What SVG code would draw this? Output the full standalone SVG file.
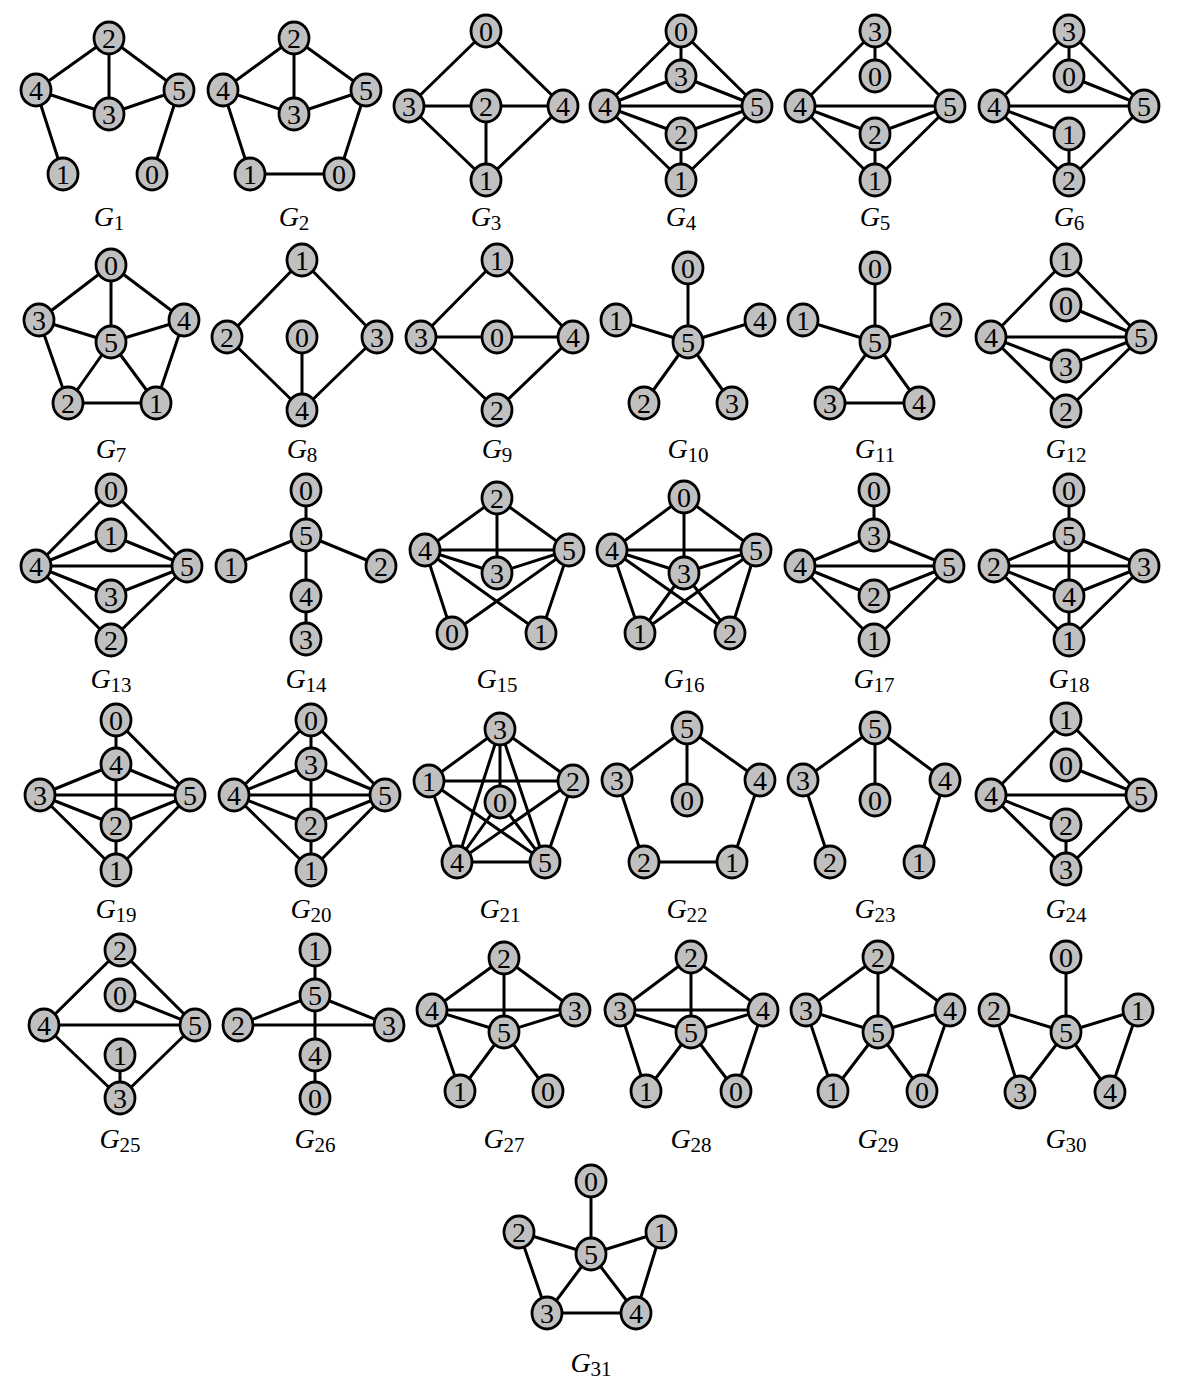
<svg xmlns="http://www.w3.org/2000/svg" width="1190" height="1388" viewBox="0 0 1190 1388">
<style>
.e{stroke:#000;stroke-width:3;stroke-linecap:round}
.n ellipse{fill:#c0c0c0;stroke:#000;stroke-width:2.8}
.n text{font-family:"Liberation Serif",serif;font-size:28px;text-anchor:middle;fill:#000}
.lbl{font-family:"Liberation Serif",serif;font-size:28px;text-anchor:middle;fill:#000}
.lbl .g{font-style:italic}
.lbl .s{font-size:21px}
</style>
<rect width="1190" height="1388" fill="#fff"/>
<g id="connectors">
<!-- G1 -->
<line class="e" x1="109" y1="38" x2="36" y2="90"/><line class="e" x1="109" y1="38" x2="109" y2="114"/><line class="e" x1="109" y1="38" x2="179" y2="90"/><line class="e" x1="36" y1="90" x2="109" y2="114"/><line class="e" x1="109" y1="114" x2="179" y2="90"/><line class="e" x1="36" y1="90" x2="63" y2="174"/><line class="e" x1="179" y1="90" x2="152" y2="174"/>
<!-- G2 -->
<line class="e" x1="294" y1="38" x2="223" y2="90"/><line class="e" x1="294" y1="38" x2="294" y2="114"/><line class="e" x1="294" y1="38" x2="366" y2="90"/><line class="e" x1="223" y1="90" x2="294" y2="114"/><line class="e" x1="294" y1="114" x2="366" y2="90"/><line class="e" x1="223" y1="90" x2="250" y2="174"/><line class="e" x1="366" y1="90" x2="339" y2="174"/><line class="e" x1="250" y1="174" x2="339" y2="174"/>
<!-- G3 -->
<line class="e" x1="486" y1="31" x2="409" y2="106"/><line class="e" x1="486" y1="31" x2="563" y2="106"/><line class="e" x1="409" y1="106" x2="563" y2="106"/><line class="e" x1="409" y1="106" x2="486" y2="180"/><line class="e" x1="563" y1="106" x2="486" y2="180"/><line class="e" x1="486" y1="106" x2="486" y2="180"/>
<!-- G4 -->
<line class="e" x1="681" y1="31" x2="605" y2="106"/><line class="e" x1="681" y1="31" x2="757" y2="106"/><line class="e" x1="681" y1="31" x2="681" y2="76"/><line class="e" x1="681" y1="76" x2="605" y2="106"/><line class="e" x1="681" y1="76" x2="757" y2="106"/><line class="e" x1="605" y1="106" x2="757" y2="106"/><line class="e" x1="605" y1="106" x2="681" y2="134"/><line class="e" x1="681" y1="134" x2="757" y2="106"/><line class="e" x1="605" y1="106" x2="681" y2="180"/><line class="e" x1="757" y1="106" x2="681" y2="180"/><line class="e" x1="681" y1="134" x2="681" y2="180"/>
<!-- G5 -->
<line class="e" x1="875" y1="31" x2="800" y2="106"/><line class="e" x1="875" y1="31" x2="950" y2="106"/><line class="e" x1="875" y1="31" x2="875" y2="76"/><line class="e" x1="800" y1="106" x2="950" y2="106"/><line class="e" x1="800" y1="106" x2="875" y2="134"/><line class="e" x1="875" y1="134" x2="950" y2="106"/><line class="e" x1="800" y1="106" x2="875" y2="180"/><line class="e" x1="950" y1="106" x2="875" y2="180"/><line class="e" x1="875" y1="134" x2="875" y2="180"/>
<!-- G6 -->
<line class="e" x1="1069" y1="31" x2="994" y2="106"/><line class="e" x1="1069" y1="31" x2="1144" y2="106"/><line class="e" x1="1069" y1="31" x2="1069" y2="76"/><line class="e" x1="1069" y1="76" x2="1144" y2="106"/><line class="e" x1="994" y1="106" x2="1144" y2="106"/><line class="e" x1="994" y1="106" x2="1069" y2="134"/><line class="e" x1="994" y1="106" x2="1069" y2="180"/><line class="e" x1="1144" y1="106" x2="1069" y2="180"/><line class="e" x1="1069" y1="134" x2="1069" y2="180"/>
<!-- G7 -->
<line class="e" x1="111" y1="265" x2="39" y2="320"/><line class="e" x1="111" y1="265" x2="184" y2="320"/><line class="e" x1="111" y1="265" x2="111" y2="342"/><line class="e" x1="39" y1="320" x2="111" y2="342"/><line class="e" x1="184" y1="320" x2="111" y2="342"/><line class="e" x1="39" y1="320" x2="68" y2="403"/><line class="e" x1="184" y1="320" x2="156" y2="403"/><line class="e" x1="111" y1="342" x2="68" y2="403"/><line class="e" x1="111" y1="342" x2="156" y2="403"/><line class="e" x1="68" y1="403" x2="156" y2="403"/>
<!-- G8 -->
<line class="e" x1="302" y1="260" x2="227" y2="337"/><line class="e" x1="302" y1="260" x2="377" y2="337"/><line class="e" x1="227" y1="337" x2="302" y2="410"/><line class="e" x1="377" y1="337" x2="302" y2="410"/><line class="e" x1="302" y1="337" x2="302" y2="410"/>
<!-- G9 -->
<line class="e" x1="497" y1="260" x2="421" y2="337"/><line class="e" x1="497" y1="260" x2="573" y2="337"/><line class="e" x1="421" y1="337" x2="573" y2="337"/><line class="e" x1="421" y1="337" x2="497" y2="410"/><line class="e" x1="573" y1="337" x2="497" y2="410"/>
<!-- G10 -->
<line class="e" x1="688" y1="342" x2="688" y2="268"/><line class="e" x1="688" y1="342" x2="616" y2="320"/><line class="e" x1="688" y1="342" x2="760" y2="320"/><line class="e" x1="688" y1="342" x2="644" y2="403"/><line class="e" x1="688" y1="342" x2="732" y2="403"/>
<!-- G11 -->
<line class="e" x1="875" y1="342" x2="875" y2="268"/><line class="e" x1="875" y1="342" x2="803" y2="320"/><line class="e" x1="875" y1="342" x2="946" y2="320"/><line class="e" x1="875" y1="342" x2="830" y2="403"/><line class="e" x1="875" y1="342" x2="919" y2="403"/><line class="e" x1="830" y1="403" x2="919" y2="403"/>
<!-- G12 -->
<line class="e" x1="1066" y1="260" x2="991" y2="337"/><line class="e" x1="1066" y1="260" x2="1141" y2="337"/><line class="e" x1="1066" y1="305" x2="1141" y2="337"/><line class="e" x1="991" y1="337" x2="1141" y2="337"/><line class="e" x1="991" y1="337" x2="1066" y2="366"/><line class="e" x1="1066" y1="366" x2="1141" y2="337"/><line class="e" x1="991" y1="337" x2="1066" y2="411"/><line class="e" x1="1066" y1="411" x2="1141" y2="337"/>
<!-- G13 -->
<line class="e" x1="111" y1="490" x2="36" y2="566"/><line class="e" x1="111" y1="490" x2="187" y2="566"/><line class="e" x1="111" y1="535" x2="36" y2="566"/><line class="e" x1="111" y1="535" x2="187" y2="566"/><line class="e" x1="36" y1="566" x2="187" y2="566"/><line class="e" x1="36" y1="566" x2="111" y2="596"/><line class="e" x1="111" y1="596" x2="187" y2="566"/><line class="e" x1="36" y1="566" x2="111" y2="640"/><line class="e" x1="111" y1="640" x2="187" y2="566"/>
<!-- G14 -->
<line class="e" x1="306" y1="490" x2="306" y2="535"/><line class="e" x1="306" y1="535" x2="231" y2="566"/><line class="e" x1="306" y1="535" x2="381" y2="566"/><line class="e" x1="306" y1="535" x2="306" y2="596"/><line class="e" x1="306" y1="596" x2="306" y2="639"/>
<!-- G15 -->
<line class="e" x1="497" y1="498" x2="425" y2="550"/><line class="e" x1="497" y1="498" x2="569" y2="550"/><line class="e" x1="497" y1="498" x2="497" y2="573"/><line class="e" x1="425" y1="550" x2="569" y2="550"/><line class="e" x1="425" y1="550" x2="497" y2="573"/><line class="e" x1="497" y1="573" x2="569" y2="550"/><line class="e" x1="425" y1="550" x2="452" y2="633"/><line class="e" x1="425" y1="550" x2="541" y2="633"/><line class="e" x1="569" y1="550" x2="452" y2="633"/><line class="e" x1="569" y1="550" x2="541" y2="633"/>
<!-- G16 -->
<line class="e" x1="684" y1="497" x2="612" y2="550"/><line class="e" x1="684" y1="497" x2="756" y2="550"/><line class="e" x1="684" y1="497" x2="684" y2="573"/><line class="e" x1="612" y1="550" x2="756" y2="550"/><line class="e" x1="612" y1="550" x2="684" y2="573"/><line class="e" x1="756" y1="550" x2="684" y2="573"/><line class="e" x1="612" y1="550" x2="640" y2="633"/><line class="e" x1="612" y1="550" x2="730" y2="633"/><line class="e" x1="756" y1="550" x2="640" y2="633"/><line class="e" x1="756" y1="550" x2="730" y2="633"/><line class="e" x1="684" y1="573" x2="640" y2="633"/><line class="e" x1="684" y1="573" x2="730" y2="633"/>
<!-- G17 -->
<line class="e" x1="874" y1="490" x2="874" y2="535"/><line class="e" x1="874" y1="535" x2="800" y2="566"/><line class="e" x1="874" y1="535" x2="949" y2="566"/><line class="e" x1="800" y1="566" x2="949" y2="566"/><line class="e" x1="800" y1="566" x2="874" y2="596"/><line class="e" x1="874" y1="596" x2="949" y2="566"/><line class="e" x1="800" y1="566" x2="874" y2="640"/><line class="e" x1="949" y1="566" x2="874" y2="640"/>
<!-- G18 -->
<line class="e" x1="1069" y1="490" x2="1069" y2="535"/><line class="e" x1="1069" y1="535" x2="994" y2="566"/><line class="e" x1="1069" y1="535" x2="1144" y2="566"/><line class="e" x1="1069" y1="535" x2="1069" y2="596"/><line class="e" x1="994" y1="566" x2="1144" y2="566"/><line class="e" x1="994" y1="566" x2="1069" y2="596"/><line class="e" x1="1069" y1="596" x2="1144" y2="566"/><line class="e" x1="1069" y1="596" x2="1069" y2="640"/><line class="e" x1="994" y1="566" x2="1069" y2="640"/><line class="e" x1="1144" y1="566" x2="1069" y2="640"/>
<!-- G19 -->
<line class="e" x1="116" y1="720" x2="116" y2="764"/><line class="e" x1="116" y1="720" x2="190" y2="795"/><line class="e" x1="116" y1="764" x2="40" y2="795"/><line class="e" x1="116" y1="764" x2="190" y2="795"/><line class="e" x1="116" y1="764" x2="116" y2="825"/><line class="e" x1="40" y1="795" x2="190" y2="795"/><line class="e" x1="40" y1="795" x2="116" y2="825"/><line class="e" x1="116" y1="825" x2="190" y2="795"/><line class="e" x1="40" y1="795" x2="116" y2="870"/><line class="e" x1="190" y1="795" x2="116" y2="870"/><line class="e" x1="116" y1="825" x2="116" y2="870"/>
<!-- G20 -->
<line class="e" x1="311" y1="720" x2="234" y2="795"/><line class="e" x1="311" y1="720" x2="385" y2="795"/><line class="e" x1="311" y1="720" x2="311" y2="764"/><line class="e" x1="311" y1="764" x2="234" y2="795"/><line class="e" x1="311" y1="764" x2="385" y2="795"/><line class="e" x1="311" y1="764" x2="311" y2="825"/><line class="e" x1="234" y1="795" x2="385" y2="795"/><line class="e" x1="234" y1="795" x2="311" y2="825"/><line class="e" x1="311" y1="825" x2="385" y2="795"/><line class="e" x1="234" y1="795" x2="311" y2="870"/><line class="e" x1="385" y1="795" x2="311" y2="870"/><line class="e" x1="311" y1="825" x2="311" y2="870"/>
<!-- G21 -->
<line class="e" x1="500" y1="729" x2="429" y2="781"/><line class="e" x1="500" y1="729" x2="573" y2="781"/><line class="e" x1="500" y1="729" x2="500" y2="802"/><line class="e" x1="500" y1="729" x2="457" y2="862"/><line class="e" x1="500" y1="729" x2="545" y2="862"/><line class="e" x1="429" y1="781" x2="573" y2="781"/><line class="e" x1="429" y1="781" x2="457" y2="862"/><line class="e" x1="429" y1="781" x2="545" y2="862"/><line class="e" x1="573" y1="781" x2="457" y2="862"/><line class="e" x1="573" y1="781" x2="545" y2="862"/><line class="e" x1="500" y1="802" x2="457" y2="862"/><line class="e" x1="500" y1="802" x2="545" y2="862"/><line class="e" x1="457" y1="862" x2="545" y2="862"/>
<!-- G22 -->
<line class="e" x1="687" y1="728" x2="617" y2="780"/><line class="e" x1="687" y1="728" x2="760" y2="780"/><line class="e" x1="687" y1="728" x2="687" y2="800"/><line class="e" x1="617" y1="780" x2="644" y2="862"/><line class="e" x1="760" y1="780" x2="732" y2="862"/><line class="e" x1="644" y1="862" x2="732" y2="862"/>
<!-- G23 -->
<line class="e" x1="875" y1="728" x2="803" y2="780"/><line class="e" x1="875" y1="728" x2="945" y2="780"/><line class="e" x1="875" y1="728" x2="875" y2="800"/><line class="e" x1="803" y1="780" x2="830" y2="862"/><line class="e" x1="945" y1="780" x2="919" y2="862"/>
<!-- G24 -->
<line class="e" x1="1066" y1="719" x2="991" y2="795"/><line class="e" x1="1066" y1="719" x2="1141" y2="795"/><line class="e" x1="1066" y1="765" x2="1141" y2="795"/><line class="e" x1="991" y1="795" x2="1141" y2="795"/><line class="e" x1="991" y1="795" x2="1066" y2="825"/><line class="e" x1="991" y1="795" x2="1066" y2="869"/><line class="e" x1="1066" y1="825" x2="1066" y2="869"/><line class="e" x1="1066" y1="869" x2="1141" y2="795"/>
<!-- G25 -->
<line class="e" x1="120" y1="950" x2="44" y2="1025"/><line class="e" x1="120" y1="950" x2="195" y2="1025"/><line class="e" x1="120" y1="995" x2="195" y2="1025"/><line class="e" x1="44" y1="1025" x2="195" y2="1025"/><line class="e" x1="44" y1="1025" x2="120" y2="1098"/><line class="e" x1="120" y1="1055" x2="120" y2="1098"/><line class="e" x1="120" y1="1098" x2="195" y2="1025"/>
<!-- G26 -->
<line class="e" x1="315" y1="950" x2="315" y2="995"/><line class="e" x1="315" y1="995" x2="238" y2="1025"/><line class="e" x1="315" y1="995" x2="389" y2="1025"/><line class="e" x1="315" y1="995" x2="315" y2="1055"/><line class="e" x1="238" y1="1025" x2="389" y2="1025"/><line class="e" x1="315" y1="1055" x2="315" y2="1098"/>
<!-- G27 -->
<line class="e" x1="504" y1="958" x2="432" y2="1010"/><line class="e" x1="504" y1="958" x2="575" y2="1010"/><line class="e" x1="504" y1="958" x2="504" y2="1032"/><line class="e" x1="432" y1="1010" x2="575" y2="1010"/><line class="e" x1="432" y1="1010" x2="504" y2="1032"/><line class="e" x1="504" y1="1032" x2="575" y2="1010"/><line class="e" x1="432" y1="1010" x2="460" y2="1091"/><line class="e" x1="504" y1="1032" x2="460" y2="1091"/><line class="e" x1="504" y1="1032" x2="548" y2="1091"/>
<!-- G28 -->
<line class="e" x1="691" y1="957" x2="620" y2="1010"/><line class="e" x1="691" y1="957" x2="763" y2="1010"/><line class="e" x1="691" y1="957" x2="691" y2="1032"/><line class="e" x1="620" y1="1010" x2="763" y2="1010"/><line class="e" x1="620" y1="1010" x2="691" y2="1032"/><line class="e" x1="691" y1="1032" x2="763" y2="1010"/><line class="e" x1="620" y1="1010" x2="646" y2="1091"/><line class="e" x1="691" y1="1032" x2="646" y2="1091"/><line class="e" x1="691" y1="1032" x2="736" y2="1091"/><line class="e" x1="763" y1="1010" x2="736" y2="1091"/>
<!-- G29 -->
<line class="e" x1="878" y1="957" x2="806" y2="1010"/><line class="e" x1="878" y1="957" x2="950" y2="1010"/><line class="e" x1="878" y1="957" x2="878" y2="1032"/><line class="e" x1="806" y1="1010" x2="878" y2="1032"/><line class="e" x1="878" y1="1032" x2="950" y2="1010"/><line class="e" x1="806" y1="1010" x2="833" y2="1091"/><line class="e" x1="878" y1="1032" x2="833" y2="1091"/><line class="e" x1="878" y1="1032" x2="922" y2="1091"/><line class="e" x1="950" y1="1010" x2="922" y2="1091"/>
<!-- G30 -->
<line class="e" x1="1066" y1="957" x2="1066" y2="1032"/><line class="e" x1="994" y1="1010" x2="1066" y2="1032"/><line class="e" x1="1066" y1="1032" x2="1138" y2="1010"/><line class="e" x1="994" y1="1010" x2="1020" y2="1092"/><line class="e" x1="1066" y1="1032" x2="1020" y2="1092"/><line class="e" x1="1066" y1="1032" x2="1110" y2="1092"/><line class="e" x1="1138" y1="1010" x2="1110" y2="1092"/>
<!-- G31 -->
<line class="e" x1="591" y1="1181" x2="591" y2="1254"/><line class="e" x1="519" y1="1232" x2="591" y2="1254"/><line class="e" x1="591" y1="1254" x2="661" y2="1232"/><line class="e" x1="519" y1="1232" x2="547" y2="1313"/><line class="e" x1="591" y1="1254" x2="547" y2="1313"/><line class="e" x1="591" y1="1254" x2="636" y2="1313"/><line class="e" x1="547" y1="1313" x2="636" y2="1313"/><line class="e" x1="661" y1="1232" x2="636" y2="1313"/>
</g>
<g id="nodes">
<!-- G1 -->
<g id="g1-n2" class="n"><ellipse cx="109" cy="38" rx="15" ry="16"/><text x="109" y="48">2</text></g>
<g id="g1-n4" class="n"><ellipse cx="36" cy="90" rx="15" ry="16"/><text x="36" y="100">4</text></g>
<g id="g1-n3" class="n"><ellipse cx="109" cy="114" rx="15" ry="16"/><text x="109" y="124">3</text></g>
<g id="g1-n5" class="n"><ellipse cx="179" cy="90" rx="15" ry="16"/><text x="179" y="100">5</text></g>
<g id="g1-n1" class="n"><ellipse cx="63" cy="174" rx="15" ry="16"/><text x="63" y="184">1</text></g>
<g id="g1-n0" class="n"><ellipse cx="152" cy="174" rx="15" ry="16"/><text x="152" y="184">0</text></g>
<!-- G2 -->
<g id="g2-n2" class="n"><ellipse cx="294" cy="38" rx="15" ry="16"/><text x="294" y="48">2</text></g>
<g id="g2-n4" class="n"><ellipse cx="223" cy="90" rx="15" ry="16"/><text x="223" y="100">4</text></g>
<g id="g2-n3" class="n"><ellipse cx="294" cy="114" rx="15" ry="16"/><text x="294" y="124">3</text></g>
<g id="g2-n5" class="n"><ellipse cx="366" cy="90" rx="15" ry="16"/><text x="366" y="100">5</text></g>
<g id="g2-n1" class="n"><ellipse cx="250" cy="174" rx="15" ry="16"/><text x="250" y="184">1</text></g>
<g id="g2-n0" class="n"><ellipse cx="339" cy="174" rx="15" ry="16"/><text x="339" y="184">0</text></g>
<!-- G3 -->
<g id="g3-n0" class="n"><ellipse cx="486" cy="31" rx="15" ry="16"/><text x="486" y="41">0</text></g>
<g id="g3-n3" class="n"><ellipse cx="409" cy="106" rx="15" ry="16"/><text x="409" y="116">3</text></g>
<g id="g3-n2" class="n"><ellipse cx="486" cy="106" rx="15" ry="16"/><text x="486" y="116">2</text></g>
<g id="g3-n4" class="n"><ellipse cx="563" cy="106" rx="15" ry="16"/><text x="563" y="116">4</text></g>
<g id="g3-n1" class="n"><ellipse cx="486" cy="180" rx="15" ry="16"/><text x="486" y="190">1</text></g>
<!-- G4 -->
<g id="g4-n0" class="n"><ellipse cx="681" cy="31" rx="15" ry="16"/><text x="681" y="41">0</text></g>
<g id="g4-n3" class="n"><ellipse cx="681" cy="76" rx="15" ry="16"/><text x="681" y="86">3</text></g>
<g id="g4-n4" class="n"><ellipse cx="605" cy="106" rx="15" ry="16"/><text x="605" y="116">4</text></g>
<g id="g4-n5" class="n"><ellipse cx="757" cy="106" rx="15" ry="16"/><text x="757" y="116">5</text></g>
<g id="g4-n2" class="n"><ellipse cx="681" cy="134" rx="15" ry="16"/><text x="681" y="144">2</text></g>
<g id="g4-n1" class="n"><ellipse cx="681" cy="180" rx="15" ry="16"/><text x="681" y="190">1</text></g>
<!-- G5 -->
<g id="g5-n3" class="n"><ellipse cx="875" cy="31" rx="15" ry="16"/><text x="875" y="41">3</text></g>
<g id="g5-n0" class="n"><ellipse cx="875" cy="76" rx="15" ry="16"/><text x="875" y="86">0</text></g>
<g id="g5-n4" class="n"><ellipse cx="800" cy="106" rx="15" ry="16"/><text x="800" y="116">4</text></g>
<g id="g5-n5" class="n"><ellipse cx="950" cy="106" rx="15" ry="16"/><text x="950" y="116">5</text></g>
<g id="g5-n2" class="n"><ellipse cx="875" cy="134" rx="15" ry="16"/><text x="875" y="144">2</text></g>
<g id="g5-n1" class="n"><ellipse cx="875" cy="180" rx="15" ry="16"/><text x="875" y="190">1</text></g>
<!-- G6 -->
<g id="g6-n3" class="n"><ellipse cx="1069" cy="31" rx="15" ry="16"/><text x="1069" y="41">3</text></g>
<g id="g6-n0" class="n"><ellipse cx="1069" cy="76" rx="15" ry="16"/><text x="1069" y="86">0</text></g>
<g id="g6-n4" class="n"><ellipse cx="994" cy="106" rx="15" ry="16"/><text x="994" y="116">4</text></g>
<g id="g6-n5" class="n"><ellipse cx="1144" cy="106" rx="15" ry="16"/><text x="1144" y="116">5</text></g>
<g id="g6-n1" class="n"><ellipse cx="1069" cy="134" rx="15" ry="16"/><text x="1069" y="144">1</text></g>
<g id="g6-n2" class="n"><ellipse cx="1069" cy="180" rx="15" ry="16"/><text x="1069" y="190">2</text></g>
<!-- G7 -->
<g id="g7-n0" class="n"><ellipse cx="111" cy="265" rx="15" ry="16"/><text x="111" y="275">0</text></g>
<g id="g7-n3" class="n"><ellipse cx="39" cy="320" rx="15" ry="16"/><text x="39" y="330">3</text></g>
<g id="g7-n4" class="n"><ellipse cx="184" cy="320" rx="15" ry="16"/><text x="184" y="330">4</text></g>
<g id="g7-n5" class="n"><ellipse cx="111" cy="342" rx="15" ry="16"/><text x="111" y="352">5</text></g>
<g id="g7-n2" class="n"><ellipse cx="68" cy="403" rx="15" ry="16"/><text x="68" y="413">2</text></g>
<g id="g7-n1" class="n"><ellipse cx="156" cy="403" rx="15" ry="16"/><text x="156" y="413">1</text></g>
<!-- G8 -->
<g id="g8-n1" class="n"><ellipse cx="302" cy="260" rx="15" ry="16"/><text x="302" y="270">1</text></g>
<g id="g8-n2" class="n"><ellipse cx="227" cy="337" rx="15" ry="16"/><text x="227" y="347">2</text></g>
<g id="g8-n0" class="n"><ellipse cx="302" cy="337" rx="15" ry="16"/><text x="302" y="347">0</text></g>
<g id="g8-n3" class="n"><ellipse cx="377" cy="337" rx="15" ry="16"/><text x="377" y="347">3</text></g>
<g id="g8-n4" class="n"><ellipse cx="302" cy="410" rx="15" ry="16"/><text x="302" y="420">4</text></g>
<!-- G9 -->
<g id="g9-n1" class="n"><ellipse cx="497" cy="260" rx="15" ry="16"/><text x="497" y="270">1</text></g>
<g id="g9-n3" class="n"><ellipse cx="421" cy="337" rx="15" ry="16"/><text x="421" y="347">3</text></g>
<g id="g9-n0" class="n"><ellipse cx="497" cy="337" rx="15" ry="16"/><text x="497" y="347">0</text></g>
<g id="g9-n4" class="n"><ellipse cx="573" cy="337" rx="15" ry="16"/><text x="573" y="347">4</text></g>
<g id="g9-n2" class="n"><ellipse cx="497" cy="410" rx="15" ry="16"/><text x="497" y="420">2</text></g>
<!-- G10 -->
<g id="g10-n0" class="n"><ellipse cx="688" cy="268" rx="15" ry="16"/><text x="688" y="278">0</text></g>
<g id="g10-n1" class="n"><ellipse cx="616" cy="320" rx="15" ry="16"/><text x="616" y="330">1</text></g>
<g id="g10-n4" class="n"><ellipse cx="760" cy="320" rx="15" ry="16"/><text x="760" y="330">4</text></g>
<g id="g10-n5" class="n"><ellipse cx="688" cy="342" rx="15" ry="16"/><text x="688" y="352">5</text></g>
<g id="g10-n2" class="n"><ellipse cx="644" cy="403" rx="15" ry="16"/><text x="644" y="413">2</text></g>
<g id="g10-n3" class="n"><ellipse cx="732" cy="403" rx="15" ry="16"/><text x="732" y="413">3</text></g>
<!-- G11 -->
<g id="g11-n0" class="n"><ellipse cx="875" cy="268" rx="15" ry="16"/><text x="875" y="278">0</text></g>
<g id="g11-n1" class="n"><ellipse cx="803" cy="320" rx="15" ry="16"/><text x="803" y="330">1</text></g>
<g id="g11-n2" class="n"><ellipse cx="946" cy="320" rx="15" ry="16"/><text x="946" y="330">2</text></g>
<g id="g11-n5" class="n"><ellipse cx="875" cy="342" rx="15" ry="16"/><text x="875" y="352">5</text></g>
<g id="g11-n3" class="n"><ellipse cx="830" cy="403" rx="15" ry="16"/><text x="830" y="413">3</text></g>
<g id="g11-n4" class="n"><ellipse cx="919" cy="403" rx="15" ry="16"/><text x="919" y="413">4</text></g>
<!-- G12 -->
<g id="g12-n1" class="n"><ellipse cx="1066" cy="260" rx="15" ry="16"/><text x="1066" y="270">1</text></g>
<g id="g12-n0" class="n"><ellipse cx="1066" cy="305" rx="15" ry="16"/><text x="1066" y="315">0</text></g>
<g id="g12-n4" class="n"><ellipse cx="991" cy="337" rx="15" ry="16"/><text x="991" y="347">4</text></g>
<g id="g12-n5" class="n"><ellipse cx="1141" cy="337" rx="15" ry="16"/><text x="1141" y="347">5</text></g>
<g id="g12-n3" class="n"><ellipse cx="1066" cy="366" rx="15" ry="16"/><text x="1066" y="376">3</text></g>
<g id="g12-n2" class="n"><ellipse cx="1066" cy="411" rx="15" ry="16"/><text x="1066" y="421">2</text></g>
<!-- G13 -->
<g id="g13-n0" class="n"><ellipse cx="111" cy="490" rx="15" ry="16"/><text x="111" y="500">0</text></g>
<g id="g13-n1" class="n"><ellipse cx="111" cy="535" rx="15" ry="16"/><text x="111" y="545">1</text></g>
<g id="g13-n4" class="n"><ellipse cx="36" cy="566" rx="15" ry="16"/><text x="36" y="576">4</text></g>
<g id="g13-n5" class="n"><ellipse cx="187" cy="566" rx="15" ry="16"/><text x="187" y="576">5</text></g>
<g id="g13-n3" class="n"><ellipse cx="111" cy="596" rx="15" ry="16"/><text x="111" y="606">3</text></g>
<g id="g13-n2" class="n"><ellipse cx="111" cy="640" rx="15" ry="16"/><text x="111" y="650">2</text></g>
<!-- G14 -->
<g id="g14-n0" class="n"><ellipse cx="306" cy="490" rx="15" ry="16"/><text x="306" y="500">0</text></g>
<g id="g14-n5" class="n"><ellipse cx="306" cy="535" rx="15" ry="16"/><text x="306" y="545">5</text></g>
<g id="g14-n1" class="n"><ellipse cx="231" cy="566" rx="15" ry="16"/><text x="231" y="576">1</text></g>
<g id="g14-n2" class="n"><ellipse cx="381" cy="566" rx="15" ry="16"/><text x="381" y="576">2</text></g>
<g id="g14-n4" class="n"><ellipse cx="306" cy="596" rx="15" ry="16"/><text x="306" y="606">4</text></g>
<g id="g14-n3" class="n"><ellipse cx="306" cy="639" rx="15" ry="16"/><text x="306" y="649">3</text></g>
<!-- G15 -->
<g id="g15-n2" class="n"><ellipse cx="497" cy="498" rx="15" ry="16"/><text x="497" y="508">2</text></g>
<g id="g15-n4" class="n"><ellipse cx="425" cy="550" rx="15" ry="16"/><text x="425" y="560">4</text></g>
<g id="g15-n5" class="n"><ellipse cx="569" cy="550" rx="15" ry="16"/><text x="569" y="560">5</text></g>
<g id="g15-n3" class="n"><ellipse cx="497" cy="573" rx="15" ry="16"/><text x="497" y="583">3</text></g>
<g id="g15-n0" class="n"><ellipse cx="452" cy="633" rx="15" ry="16"/><text x="452" y="643">0</text></g>
<g id="g15-n1" class="n"><ellipse cx="541" cy="633" rx="15" ry="16"/><text x="541" y="643">1</text></g>
<!-- G16 -->
<g id="g16-n0" class="n"><ellipse cx="684" cy="497" rx="15" ry="16"/><text x="684" y="507">0</text></g>
<g id="g16-n4" class="n"><ellipse cx="612" cy="550" rx="15" ry="16"/><text x="612" y="560">4</text></g>
<g id="g16-n5" class="n"><ellipse cx="756" cy="550" rx="15" ry="16"/><text x="756" y="560">5</text></g>
<g id="g16-n3" class="n"><ellipse cx="684" cy="573" rx="15" ry="16"/><text x="684" y="583">3</text></g>
<g id="g16-n1" class="n"><ellipse cx="640" cy="633" rx="15" ry="16"/><text x="640" y="643">1</text></g>
<g id="g16-n2" class="n"><ellipse cx="730" cy="633" rx="15" ry="16"/><text x="730" y="643">2</text></g>
<!-- G17 -->
<g id="g17-n0" class="n"><ellipse cx="874" cy="490" rx="15" ry="16"/><text x="874" y="500">0</text></g>
<g id="g17-n3" class="n"><ellipse cx="874" cy="535" rx="15" ry="16"/><text x="874" y="545">3</text></g>
<g id="g17-n4" class="n"><ellipse cx="800" cy="566" rx="15" ry="16"/><text x="800" y="576">4</text></g>
<g id="g17-n5" class="n"><ellipse cx="949" cy="566" rx="15" ry="16"/><text x="949" y="576">5</text></g>
<g id="g17-n2" class="n"><ellipse cx="874" cy="596" rx="15" ry="16"/><text x="874" y="606">2</text></g>
<g id="g17-n1" class="n"><ellipse cx="874" cy="640" rx="15" ry="16"/><text x="874" y="650">1</text></g>
<!-- G18 -->
<g id="g18-n0" class="n"><ellipse cx="1069" cy="490" rx="15" ry="16"/><text x="1069" y="500">0</text></g>
<g id="g18-n5" class="n"><ellipse cx="1069" cy="535" rx="15" ry="16"/><text x="1069" y="545">5</text></g>
<g id="g18-n2" class="n"><ellipse cx="994" cy="566" rx="15" ry="16"/><text x="994" y="576">2</text></g>
<g id="g18-n3" class="n"><ellipse cx="1144" cy="566" rx="15" ry="16"/><text x="1144" y="576">3</text></g>
<g id="g18-n4" class="n"><ellipse cx="1069" cy="596" rx="15" ry="16"/><text x="1069" y="606">4</text></g>
<g id="g18-n1" class="n"><ellipse cx="1069" cy="640" rx="15" ry="16"/><text x="1069" y="650">1</text></g>
<!-- G19 -->
<g id="g19-n0" class="n"><ellipse cx="116" cy="720" rx="15" ry="16"/><text x="116" y="730">0</text></g>
<g id="g19-n4" class="n"><ellipse cx="116" cy="764" rx="15" ry="16"/><text x="116" y="774">4</text></g>
<g id="g19-n3" class="n"><ellipse cx="40" cy="795" rx="15" ry="16"/><text x="40" y="805">3</text></g>
<g id="g19-n5" class="n"><ellipse cx="190" cy="795" rx="15" ry="16"/><text x="190" y="805">5</text></g>
<g id="g19-n2" class="n"><ellipse cx="116" cy="825" rx="15" ry="16"/><text x="116" y="835">2</text></g>
<g id="g19-n1" class="n"><ellipse cx="116" cy="870" rx="15" ry="16"/><text x="116" y="880">1</text></g>
<!-- G20 -->
<g id="g20-n0" class="n"><ellipse cx="311" cy="720" rx="15" ry="16"/><text x="311" y="730">0</text></g>
<g id="g20-n3" class="n"><ellipse cx="311" cy="764" rx="15" ry="16"/><text x="311" y="774">3</text></g>
<g id="g20-n4" class="n"><ellipse cx="234" cy="795" rx="15" ry="16"/><text x="234" y="805">4</text></g>
<g id="g20-n5" class="n"><ellipse cx="385" cy="795" rx="15" ry="16"/><text x="385" y="805">5</text></g>
<g id="g20-n2" class="n"><ellipse cx="311" cy="825" rx="15" ry="16"/><text x="311" y="835">2</text></g>
<g id="g20-n1" class="n"><ellipse cx="311" cy="870" rx="15" ry="16"/><text x="311" y="880">1</text></g>
<!-- G21 -->
<g id="g21-n3" class="n"><ellipse cx="500" cy="729" rx="15" ry="16"/><text x="500" y="739">3</text></g>
<g id="g21-n1" class="n"><ellipse cx="429" cy="781" rx="15" ry="16"/><text x="429" y="791">1</text></g>
<g id="g21-n2" class="n"><ellipse cx="573" cy="781" rx="15" ry="16"/><text x="573" y="791">2</text></g>
<g id="g21-n0" class="n"><ellipse cx="500" cy="802" rx="15" ry="16"/><text x="500" y="812">0</text></g>
<g id="g21-n4" class="n"><ellipse cx="457" cy="862" rx="15" ry="16"/><text x="457" y="872">4</text></g>
<g id="g21-n5" class="n"><ellipse cx="545" cy="862" rx="15" ry="16"/><text x="545" y="872">5</text></g>
<!-- G22 -->
<g id="g22-n5" class="n"><ellipse cx="687" cy="728" rx="15" ry="16"/><text x="687" y="738">5</text></g>
<g id="g22-n3" class="n"><ellipse cx="617" cy="780" rx="15" ry="16"/><text x="617" y="790">3</text></g>
<g id="g22-n4" class="n"><ellipse cx="760" cy="780" rx="15" ry="16"/><text x="760" y="790">4</text></g>
<g id="g22-n0" class="n"><ellipse cx="687" cy="800" rx="15" ry="16"/><text x="687" y="810">0</text></g>
<g id="g22-n2" class="n"><ellipse cx="644" cy="862" rx="15" ry="16"/><text x="644" y="872">2</text></g>
<g id="g22-n1" class="n"><ellipse cx="732" cy="862" rx="15" ry="16"/><text x="732" y="872">1</text></g>
<!-- G23 -->
<g id="g23-n5" class="n"><ellipse cx="875" cy="728" rx="15" ry="16"/><text x="875" y="738">5</text></g>
<g id="g23-n3" class="n"><ellipse cx="803" cy="780" rx="15" ry="16"/><text x="803" y="790">3</text></g>
<g id="g23-n4" class="n"><ellipse cx="945" cy="780" rx="15" ry="16"/><text x="945" y="790">4</text></g>
<g id="g23-n0" class="n"><ellipse cx="875" cy="800" rx="15" ry="16"/><text x="875" y="810">0</text></g>
<g id="g23-n2" class="n"><ellipse cx="830" cy="862" rx="15" ry="16"/><text x="830" y="872">2</text></g>
<g id="g23-n1" class="n"><ellipse cx="919" cy="862" rx="15" ry="16"/><text x="919" y="872">1</text></g>
<!-- G24 -->
<g id="g24-n1" class="n"><ellipse cx="1066" cy="719" rx="15" ry="16"/><text x="1066" y="729">1</text></g>
<g id="g24-n0" class="n"><ellipse cx="1066" cy="765" rx="15" ry="16"/><text x="1066" y="775">0</text></g>
<g id="g24-n4" class="n"><ellipse cx="991" cy="795" rx="15" ry="16"/><text x="991" y="805">4</text></g>
<g id="g24-n5" class="n"><ellipse cx="1141" cy="795" rx="15" ry="16"/><text x="1141" y="805">5</text></g>
<g id="g24-n2" class="n"><ellipse cx="1066" cy="825" rx="15" ry="16"/><text x="1066" y="835">2</text></g>
<g id="g24-n3" class="n"><ellipse cx="1066" cy="869" rx="15" ry="16"/><text x="1066" y="879">3</text></g>
<!-- G25 -->
<g id="g25-n2" class="n"><ellipse cx="120" cy="950" rx="15" ry="16"/><text x="120" y="960">2</text></g>
<g id="g25-n0" class="n"><ellipse cx="120" cy="995" rx="15" ry="16"/><text x="120" y="1005">0</text></g>
<g id="g25-n4" class="n"><ellipse cx="44" cy="1025" rx="15" ry="16"/><text x="44" y="1035">4</text></g>
<g id="g25-n5" class="n"><ellipse cx="195" cy="1025" rx="15" ry="16"/><text x="195" y="1035">5</text></g>
<g id="g25-n1" class="n"><ellipse cx="120" cy="1055" rx="15" ry="16"/><text x="120" y="1065">1</text></g>
<g id="g25-n3" class="n"><ellipse cx="120" cy="1098" rx="15" ry="16"/><text x="120" y="1108">3</text></g>
<!-- G26 -->
<g id="g26-n1" class="n"><ellipse cx="315" cy="950" rx="15" ry="16"/><text x="315" y="960">1</text></g>
<g id="g26-n5" class="n"><ellipse cx="315" cy="995" rx="15" ry="16"/><text x="315" y="1005">5</text></g>
<g id="g26-n2" class="n"><ellipse cx="238" cy="1025" rx="15" ry="16"/><text x="238" y="1035">2</text></g>
<g id="g26-n3" class="n"><ellipse cx="389" cy="1025" rx="15" ry="16"/><text x="389" y="1035">3</text></g>
<g id="g26-n4" class="n"><ellipse cx="315" cy="1055" rx="15" ry="16"/><text x="315" y="1065">4</text></g>
<g id="g26-n0" class="n"><ellipse cx="315" cy="1098" rx="15" ry="16"/><text x="315" y="1108">0</text></g>
<!-- G27 -->
<g id="g27-n2" class="n"><ellipse cx="504" cy="958" rx="15" ry="16"/><text x="504" y="968">2</text></g>
<g id="g27-n4" class="n"><ellipse cx="432" cy="1010" rx="15" ry="16"/><text x="432" y="1020">4</text></g>
<g id="g27-n3" class="n"><ellipse cx="575" cy="1010" rx="15" ry="16"/><text x="575" y="1020">3</text></g>
<g id="g27-n5" class="n"><ellipse cx="504" cy="1032" rx="15" ry="16"/><text x="504" y="1042">5</text></g>
<g id="g27-n1" class="n"><ellipse cx="460" cy="1091" rx="15" ry="16"/><text x="460" y="1101">1</text></g>
<g id="g27-n0" class="n"><ellipse cx="548" cy="1091" rx="15" ry="16"/><text x="548" y="1101">0</text></g>
<!-- G28 -->
<g id="g28-n2" class="n"><ellipse cx="691" cy="957" rx="15" ry="16"/><text x="691" y="967">2</text></g>
<g id="g28-n3" class="n"><ellipse cx="620" cy="1010" rx="15" ry="16"/><text x="620" y="1020">3</text></g>
<g id="g28-n4" class="n"><ellipse cx="763" cy="1010" rx="15" ry="16"/><text x="763" y="1020">4</text></g>
<g id="g28-n5" class="n"><ellipse cx="691" cy="1032" rx="15" ry="16"/><text x="691" y="1042">5</text></g>
<g id="g28-n1" class="n"><ellipse cx="646" cy="1091" rx="15" ry="16"/><text x="646" y="1101">1</text></g>
<g id="g28-n0" class="n"><ellipse cx="736" cy="1091" rx="15" ry="16"/><text x="736" y="1101">0</text></g>
<!-- G29 -->
<g id="g29-n2" class="n"><ellipse cx="878" cy="957" rx="15" ry="16"/><text x="878" y="967">2</text></g>
<g id="g29-n3" class="n"><ellipse cx="806" cy="1010" rx="15" ry="16"/><text x="806" y="1020">3</text></g>
<g id="g29-n4" class="n"><ellipse cx="950" cy="1010" rx="15" ry="16"/><text x="950" y="1020">4</text></g>
<g id="g29-n5" class="n"><ellipse cx="878" cy="1032" rx="15" ry="16"/><text x="878" y="1042">5</text></g>
<g id="g29-n1" class="n"><ellipse cx="833" cy="1091" rx="15" ry="16"/><text x="833" y="1101">1</text></g>
<g id="g29-n0" class="n"><ellipse cx="922" cy="1091" rx="15" ry="16"/><text x="922" y="1101">0</text></g>
<!-- G30 -->
<g id="g30-n0" class="n"><ellipse cx="1066" cy="957" rx="15" ry="16"/><text x="1066" y="967">0</text></g>
<g id="g30-n2" class="n"><ellipse cx="994" cy="1010" rx="15" ry="16"/><text x="994" y="1020">2</text></g>
<g id="g30-n1" class="n"><ellipse cx="1138" cy="1010" rx="15" ry="16"/><text x="1138" y="1020">1</text></g>
<g id="g30-n5" class="n"><ellipse cx="1066" cy="1032" rx="15" ry="16"/><text x="1066" y="1042">5</text></g>
<g id="g30-n3" class="n"><ellipse cx="1020" cy="1092" rx="15" ry="16"/><text x="1020" y="1102">3</text></g>
<g id="g30-n4" class="n"><ellipse cx="1110" cy="1092" rx="15" ry="16"/><text x="1110" y="1102">4</text></g>
<!-- G31 -->
<g id="g31-n0" class="n"><ellipse cx="591" cy="1181" rx="15" ry="16"/><text x="591" y="1191">0</text></g>
<g id="g31-n2" class="n"><ellipse cx="519" cy="1232" rx="15" ry="16"/><text x="519" y="1242">2</text></g>
<g id="g31-n1" class="n"><ellipse cx="661" cy="1232" rx="15" ry="16"/><text x="661" y="1242">1</text></g>
<g id="g31-n5" class="n"><ellipse cx="591" cy="1254" rx="15" ry="16"/><text x="591" y="1264">5</text></g>
<g id="g31-n3" class="n"><ellipse cx="547" cy="1313" rx="15" ry="16"/><text x="547" y="1323">3</text></g>
<g id="g31-n4" class="n"><ellipse cx="636" cy="1313" rx="15" ry="16"/><text x="636" y="1323">4</text></g>
</g>
<g id="labels">
<text class="lbl" x="109" y="226"><tspan class="g">G</tspan><tspan class="s" dy="4">1</tspan></text>
<text class="lbl" x="294" y="226"><tspan class="g">G</tspan><tspan class="s" dy="4">2</tspan></text>
<text class="lbl" x="486" y="226"><tspan class="g">G</tspan><tspan class="s" dy="4">3</tspan></text>
<text class="lbl" x="681" y="226"><tspan class="g">G</tspan><tspan class="s" dy="4">4</tspan></text>
<text class="lbl" x="875" y="226"><tspan class="g">G</tspan><tspan class="s" dy="4">5</tspan></text>
<text class="lbl" x="1069" y="226"><tspan class="g">G</tspan><tspan class="s" dy="4">6</tspan></text>
<text class="lbl" x="111" y="458"><tspan class="g">G</tspan><tspan class="s" dy="4">7</tspan></text>
<text class="lbl" x="302" y="458"><tspan class="g">G</tspan><tspan class="s" dy="4">8</tspan></text>
<text class="lbl" x="497" y="458"><tspan class="g">G</tspan><tspan class="s" dy="4">9</tspan></text>
<text class="lbl" x="688" y="458"><tspan class="g">G</tspan><tspan class="s" dy="4">10</tspan></text>
<text class="lbl" x="875" y="458"><tspan class="g">G</tspan><tspan class="s" dy="4">11</tspan></text>
<text class="lbl" x="1066" y="458"><tspan class="g">G</tspan><tspan class="s" dy="4">12</tspan></text>
<text class="lbl" x="111" y="688"><tspan class="g">G</tspan><tspan class="s" dy="4">13</tspan></text>
<text class="lbl" x="306" y="688"><tspan class="g">G</tspan><tspan class="s" dy="4">14</tspan></text>
<text class="lbl" x="497" y="688"><tspan class="g">G</tspan><tspan class="s" dy="4">15</tspan></text>
<text class="lbl" x="684" y="688"><tspan class="g">G</tspan><tspan class="s" dy="4">16</tspan></text>
<text class="lbl" x="874" y="688"><tspan class="g">G</tspan><tspan class="s" dy="4">17</tspan></text>
<text class="lbl" x="1069" y="688"><tspan class="g">G</tspan><tspan class="s" dy="4">18</tspan></text>
<text class="lbl" x="116" y="918"><tspan class="g">G</tspan><tspan class="s" dy="4">19</tspan></text>
<text class="lbl" x="311" y="918"><tspan class="g">G</tspan><tspan class="s" dy="4">20</tspan></text>
<text class="lbl" x="500" y="918"><tspan class="g">G</tspan><tspan class="s" dy="4">21</tspan></text>
<text class="lbl" x="687" y="918"><tspan class="g">G</tspan><tspan class="s" dy="4">22</tspan></text>
<text class="lbl" x="875" y="918"><tspan class="g">G</tspan><tspan class="s" dy="4">23</tspan></text>
<text class="lbl" x="1066" y="918"><tspan class="g">G</tspan><tspan class="s" dy="4">24</tspan></text>
<text class="lbl" x="120" y="1148"><tspan class="g">G</tspan><tspan class="s" dy="4">25</tspan></text>
<text class="lbl" x="315" y="1148"><tspan class="g">G</tspan><tspan class="s" dy="4">26</tspan></text>
<text class="lbl" x="504" y="1148"><tspan class="g">G</tspan><tspan class="s" dy="4">27</tspan></text>
<text class="lbl" x="691" y="1148"><tspan class="g">G</tspan><tspan class="s" dy="4">28</tspan></text>
<text class="lbl" x="878" y="1148"><tspan class="g">G</tspan><tspan class="s" dy="4">29</tspan></text>
<text class="lbl" x="1066" y="1148"><tspan class="g">G</tspan><tspan class="s" dy="4">30</tspan></text>
<text class="lbl" x="591" y="1372"><tspan class="g">G</tspan><tspan class="s" dy="4">31</tspan></text>
</g>
</svg>
